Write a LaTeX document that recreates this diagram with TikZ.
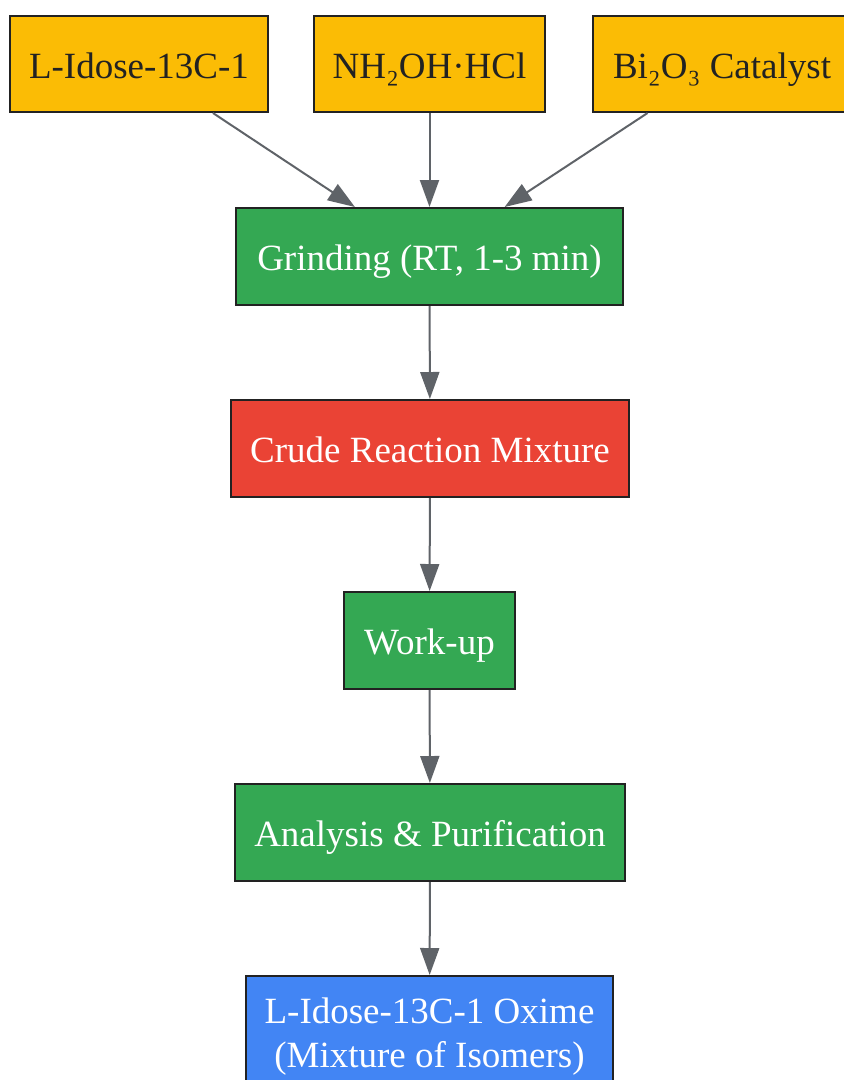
\documentclass[tikz,border=0pt]{standalone}
\usepackage{fontspec}
\setmainfont{Liberation Serif}
\usepackage{xcolor}
\usetikzlibrary{arrows.meta, positioning}

\definecolor{gyellow}{HTML}{FBBC05}
\definecolor{ggreen}{HTML}{34A853}
\definecolor{gred}{HTML}{EA4335}
\definecolor{gblue}{HTML}{4285F4}
\definecolor{edgegray}{HTML}{5F6368}
\definecolor{boxline}{HTML}{222222}

\begin{document}
\begin{tikzpicture}[x=1pt, y=-1pt,
input/.style={rectangle, draw=boxline, fill=gyellow, line width=2pt, text=boxline, minimum height=96pt, inner sep=0pt, text height=32pt, text depth=4pt, font=\fontsize{37}{44}\selectfont},
process/.style={rectangle, draw=boxline, fill=ggreen, line width=2pt, text=white, minimum height=97pt, inner sep=0pt, text height=32pt, text depth=4pt, font=\fontsize{37}{44}\selectfont},
mixture/.style={process, fill=gred},
product/.style={rectangle, draw=boxline, fill=gblue, line width=2pt, text=white, align=center, inner sep=0pt, minimum height=122pt, font=\fontsize{37}{44}\selectfont},
flow/.style={draw=edgegray, line width=2pt, -{Triangle[length=27pt, width=19pt]}}
]
\useasboundingbox (0,0) rectangle (844,1080);

\node[input, minimum width=258pt] (n1) at (139,64) {L-Idose-13C-1};
\node[input, minimum width=231pt] (n2) at (429.5,64) {NH₂OH·HCl};
\node[input, minimum width=258pt] (n3) at (722,64) {Bi₂O₃ Catalyst};

\node[process, minimum width=387pt] (n4) at (429.5,256.5) {Grinding (RT, 1-3 min)};
\node[mixture, minimum width=398pt] (n5) at (430,448.5) {Crude Reaction Mixture};
\node[process, minimum width=171pt] (n6) at (429.5,640.5) {Work-up};
\node[process, minimum width=390pt] (n7) at (430,832.5) {Analysis \& Purification};
\node[product, minimum width=367pt] (n8) at (429.5,1037) {L-Idose-13C-1 Oxime\\(Mixture of Isomers)};

\draw[flow] (n1) -- (n4);
\draw[flow] (n2) -- (n4);
\draw[flow] (n3) -- (n4);
\draw[flow] (n4) -- (n5);
\draw[flow] (n5) -- (n6);
\draw[flow] (n6) -- (n7);
\draw[flow] (n7) -- (n8);

\end{tikzpicture}
\end{document}
